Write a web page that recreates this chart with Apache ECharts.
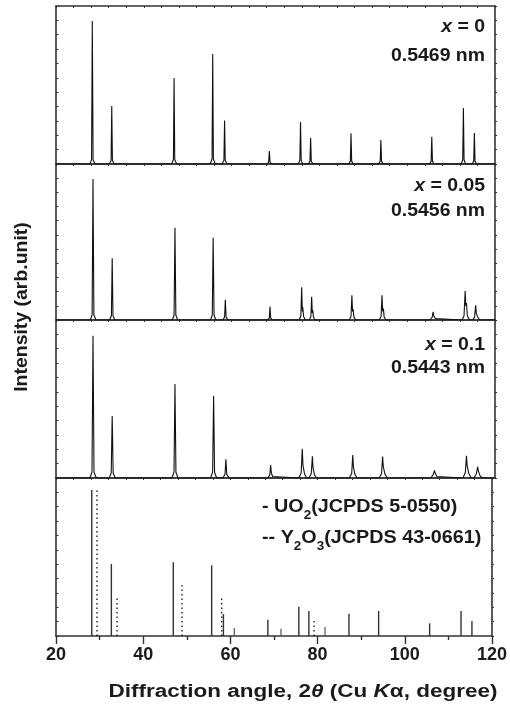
<!DOCTYPE html>
<html><head><meta charset="utf-8">
<script src="https://cdn.jsdelivr.net/npm/echarts@6.0.0/dist/echarts.min.js"></script>
<style>html,body{margin:0;padding:0;background:#fff}#c{width:510px;height:706px}</style>
</head><body><div id="c"></div>
<script>
// ---- data (2θ in degrees, intensity in arbitrary units) ----
const xTicks = [20, 40, 60, 80, 100, 120];
const panelLabels = [['x', ' = 0', '0.5469 nm'], ['x', ' = 0.05', '0.5456 nm'], ['x', ' = 0.1', '0.5443 nm']];
const xrd0 = [
[20,0],
[27.7,0],[28.1,0.3],[28.27,9.96],[28.45,0.3],[28.9,0],
[32.1,0],[32.55,0.25],[32.7,4.04],[32.85,0.25],[33.3,0],
[46.3,0],[46.75,0.3],[46.9,5.99],[47.05,0.3],[47.5,0],
[55.1,0],[55.55,0.35],[55.7,7.66],[55.85,0.35],[56.3,0],
[57.8,0],[58.25,0.25],[58.4,3.02],[58.55,0.25],[59.0,0],
[68.1,0],[68.45,0.15],[68.6,0.91],[68.75,0.15],[69.1,0],
[75.2,0],[75.55,0.25],[75.7,2.92],[75.85,0.25],[76.2,0],
[77.5,0],[77.85,0.2],[78.0,1.81],[78.15,0.2],[78.5,0],
[86.7,0],[87.05,0.2],[87.2,2.14],[87.35,0.2],[87.7,0],
[93.5,0],[93.85,0.2],[94.0,1.67],[94.15,0.2],[94.5,0],
[105.1,0],[105.45,0.2],[105.6,1.9],[105.75,0.2],[106.1,0],
[112.3,0],[112.65,0.3],[112.8,3.9],[112.95,0.3],[113.3,0],
[114.8,0],[115.15,0.2],[115.3,2.16],[115.45,0.2],[115.8,0],
[120,0]
];
const xrd005 = [
[20,0],
[27.8,0],[28.23,0.35],[28.43,9.94],[28.63,0.35],[29.1,0],
[32.2,0],[32.62,0.3],[32.8,4.36],[32.98,0.3],[33.4,0],
[46.5,0],[46.9,0.35],[47.1,6.5],[47.3,0.35],[47.7,0],
[55.2,0],[55.6,0.35],[55.8,5.8],[56.0,0.35],[56.4,0],
[58.0,0],[58.4,0.2],[58.57,1.42],[58.75,0.2],[59.2,0],
[68.2,0],[68.6,0.15],[68.75,0.95],[68.9,0.15],[69.3,0],
[75.4,0],[75.78,0.3],[75.96,2.3],[76.12,0.6],[76.22,0.9],[76.4,0.25],[76.8,0],
[77.7,0],[78.06,0.25],[78.24,1.63],[78.38,0.5],[78.48,0.7],[78.65,0.2],[79.0,0],
[86.8,0],[87.2,0.25],[87.4,1.74],[87.55,0.6],[87.7,0.75],[87.85,0.2],[88.3,0],
[93.6,0],[94.05,0.25],[94.26,1.74],[94.42,0.6],[94.58,0.8],[94.75,0.2],[95.2,0],
[105.2,0],[105.7,0.2],[105.9,0.58],[106.05,0.3],[106.2,0.4],[106.4,0.1],[106.8,0],
[112.5,0],[112.95,0.3],[113.2,2.04],[113.35,1.0],[113.5,1.2],[113.7,0.3],[114.2,0],
[114.9,0],[115.35,0.2],[115.6,1.04],[115.75,0.45],[115.95,0.58],[116.15,0.15],[116.6,0],
[120,0]
];
const xrd01 = [
[20,0],
[27.7,0],[28.2,0.4],[28.43,9.91],[28.66,0.4],[29.2,0],
[32.1,0],[32.58,0.35],[32.8,4.32],[33.02,0.35],[33.5,0],
[46.4,0],[46.88,0.4],[47.1,6.55],[47.32,0.4],[47.8,0],
[55.2,0],[55.68,0.4],[55.9,5.73],[56.12,0.4],[56.6,0],
[58.0,0],[58.5,0.25],[58.7,1.3],[58.9,0.25],[59.4,0],
[68.2,0],[68.7,0.2],[68.9,0.9],[69.05,0.35],[69.15,0.45],[69.35,0.1],[69.7,0],
[75.3,0],[75.85,0.35],[76.1,2.04],[76.25,0.9],[76.38,1.0],[76.6,0.3],[77.1,0],
[77.6,0],[78.15,0.3],[78.4,1.51],[78.55,0.7],[78.68,0.8],[78.9,0.2],[79.4,0],
[86.8,0],[87.35,0.3],[87.6,1.6],[87.75,0.75],[87.9,0.85],[88.1,0.25],[88.6,0],
[93.6,0],[94.15,0.3],[94.4,1.49],[94.55,0.8],[94.7,0.85],[94.95,0.25],[95.5,0],
[105.4,0],[105.95,0.25],[106.2,0.53],[106.38,0.35],[106.5,0.3],[106.75,0.1],[107.2,0],
[112.7,0],[113.25,0.4],[113.5,1.55],[113.65,0.85],[113.8,0.95],[114.05,0.3],[114.6,0],
[115.2,0],[115.75,0.3],[116.05,0.77],[116.2,0.5],[116.35,0.55],[116.6,0.15],[117.1,0],
[120,0]
];
const uo2Sticks = [[28.2,10.17],[32.7,5.01],[46.9,5.13],[55.7,4.92],[58.4,1.53],[68.6,1.14],[75.7,2.04],[78.0,1.74],[87.2,1.55],[94.0,1.74],[105.7,0.88],[112.9,1.74],[115.4,1.04]];
const y2o3Sticks = [[29.4,10.17],[34.0,2.67],[48.9,3.53],[58.0,2.67],[79.2,1.2]];
const y2o3Minor = [[60.9,0.56],[71.6,0.51],[81.7,0.63]];

// ---- chart ----
const FONT = '"Liberation Sans", Arial, Helvetica, sans-serif';
const AX = '#333';
const TXT = '#1a1a1a';
const grids = [
  {left:56, right:15, top:6, height:158},
  {left:56, right:15, top:164, height:156},
  {left:56, right:15, top:320, height:158},
  {left:56, right:15, top:478, height:158}
];
const xAxes = [], yAxes = [];
grids.forEach((g, i) => {
  const last = i === 3;
  xAxes.push({
    type:'value', gridIndex:i, position:'bottom', min:20, max:120, interval: last ? 20 : 4,
    axisLine:{show:true, onZero:false, lineStyle:{color:AX, width:1.6}},
    axisTick:{show:last, inside:false, length:8, lineStyle:{color:AX, width:1.4}},
    minorTick:{show:last, splitNumber:2, length:4, lineStyle:{color:AX, width:1.4}},
    axisLabel:{show:last, margin:10, fontFamily:FONT, fontWeight:'bold', fontSize:18, color:TXT,
      customValues: xTicks},
    splitLine:{show:false}, minorSplitLine:{show:false}
  });
  xAxes.push({
    type:'value', gridIndex:i, position:'top', min:20, max:120, interval:4,
    axisLine:{show:true, onZero:false, lineStyle:{color:AX, width:1.6}},
    axisTick:{show:true, inside:true, length:2, lineStyle:{color:AX, width:1}},
    axisLabel:{show:false}, splitLine:{show:false}
  });
  yAxes.push({
    type:'value', gridIndex:i, position:'left', min:0, max:11, interval:1,
    axisLine:{show:true, onZero:false, lineStyle:{color:AX, width:1.6}},
    axisTick:{show:true, inside:true, length:2.5, lineStyle:{color:AX, width:1}},
    axisLabel:{show:false}, splitLine:{show:false}
  });
  yAxes.push({
    type:'value', gridIndex:i, position:'right', min:0, max:11, interval:1,
    axisLine:{show:true, onZero:false, lineStyle:{color:AX, width:1.6}},
    axisTick:{show:true, inside:false, length:2, lineStyle:{color:AX, width:1}},
    axisLabel:{show:false}, splitLine:{show:false}
  });
});

function lineSeries(data, i) {
  return {type:'line', xAxisIndex:i*2, yAxisIndex:i*2, data:data, showSymbol:false, symbol:'none',
    lineStyle:{color:'#111', width:1.1}, animation:false, silent:true, z:3};
}
function stickSeries(data, stroke, width, dash) {
  return {type:'custom', xAxisIndex:6, yAxisIndex:6, data:data, animation:false, silent:true, z:3,
    encode:{x:0, y:1},
    renderItem:function(params, api){
      const x = api.value(0), h = api.value(1);
      const p0 = api.coord([x, 0]), p1 = api.coord([x, h]);
      return {type:'line', shape:{x1:p0[0], y1:p0[1], x2:p1[0], y2:p1[1]},
        style:{stroke:stroke, lineWidth:width, lineDash:dash || null}};
    }};
}

const labelY = [[27, 56], [186, 211], [345, 368]];
const graphics = [];
panelLabels.forEach((lab, i) => {
  graphics.push({type:'text', x:485, y:labelY[i][0], scaleX:1.08, style:{
    text:'{i|' + lab[0] + '}{n|' + lab[1] + '}', align:'right', verticalAlign:'middle',
    rich:{i:{fontFamily:FONT, fontSize:18, fontWeight:'bold', fontStyle:'italic', fill:TXT},
          n:{fontFamily:FONT, fontSize:18, fontWeight:'bold', fill:TXT}}}});
  graphics.push({type:'text', x:485, y:labelY[i][1], scaleX:1.08, style:{
    text: lab[2], align:'right', verticalAlign:'middle', font:'bold 18px ' + FONT, fill:TXT}});
});
const legRich = {
  n:{fontFamily:FONT, fontSize:19, fontWeight:'bold', fill:TXT, verticalAlign:'top', lineHeight:24},
  s:{fontFamily:FONT, fontSize:13, fontWeight:'bold', fill:TXT, verticalAlign:'top', lineHeight:24, padding:[12,0,0,0]}
};
graphics.push({type:'text', x:262, y:497, scaleX:1.04, style:{text:'{n|- UO}{s|2}{n|(JCPDS 5-0550)}', rich:legRich}});
graphics.push({type:'text', x:262, y:528, scaleX:1.04, style:{text:'{n|-- Y}{s|2}{n|O}{s|3}{n|(JCPDS 43-0661)}', rich:legRich}});
graphics.push({type:'text', x:22, y:307, rotation:Math.PI/2, scaleX:1.08, style:{
  text:'Intensity (arb.unit)', font:'bold 18px ' + FONT, fill:TXT, align:'center', verticalAlign:'middle'}});
graphics.push({type:'text', x:303, y:692, scaleX:1.25, style:{
  text:'{n|Diffraction angle, 2}{i|θ}{n| (Cu }{i|K}{n|α, degree)}', align:'center', verticalAlign:'middle',
  rich:{n:{fontFamily:FONT, fontSize:18, fontWeight:'bold', fill:TXT},
        i:{fontFamily:FONT, fontSize:18, fontWeight:'bold', fontStyle:'italic', fill:TXT}}}});

const chart = echarts.init(document.getElementById('c'), null, {renderer:'canvas'});
chart.setOption({
  animation:false,
  backgroundColor:'#fff',
  grid: grids,
  xAxis: xAxes,
  yAxis: yAxes,
  series: [
    lineSeries(xrd0, 0), lineSeries(xrd005, 1), lineSeries(xrd01, 2),
    stickSeries(uo2Sticks, '#333', 1.4),
    stickSeries(y2o3Sticks, '#111', 1.3, [1.5, 3]),
    stickSeries(y2o3Minor, '#555', 1.2)
  ],
  graphic: graphics
});
</script></body></html>
